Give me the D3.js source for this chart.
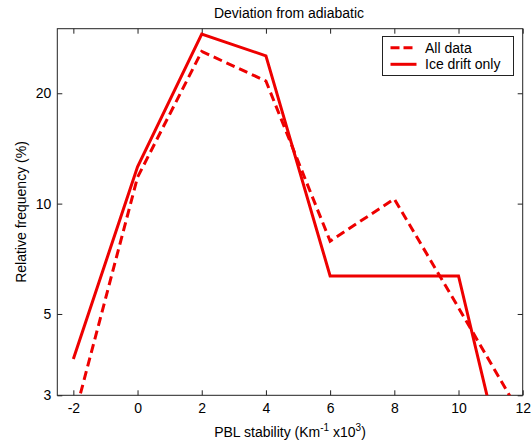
<!DOCTYPE html>
<html>
<head>
<meta charset="utf-8">
<script src="https://cdn.jsdelivr.net/npm/d3@7"></script>
<style>
  html, body { margin:0; padding:0; background:#fff; }
  svg { display:block; font-family:'Liberation Sans', Arial, sans-serif; }
</style>
</head>
<body>
<div id="chart"></div>
<script>
// PBL stability bins (Km^-1 x10^3)
const stability = [-2, 0, 2, 4, 6, 8, 10, 12];
// relative frequency (%) per bin
const allData = [2.56, 11.8, 26.0, 21.6, 7.9, 10.3, 5.2, 2.6];
const iceDrift = [3.77, 12.6, 29.0, 25.3, 6.35, 6.35, 6.35, 1.17];
const xTicks = [-2, 0, 2, 4, 6, 8, 10, 12];
const yTicks = [3, 5, 10, 20];

const width = 531, height = 443;
const margin = { top:28.7, right:8.3, bottom:47.7, left:57.3 };
const w = width - margin.left - margin.right;
const h = height - margin.top - margin.bottom;
const fs = 14;

const svg = d3.select('#chart').append('svg')
  .attr('width', width).attr('height', height);

const x = d3.scaleLinear().domain([-2.5, 12]).range([0, w]);
const y = d3.scaleLog().domain([3, 30]).range([h, 0]);

svg.append('defs').append('clipPath').attr('id', 'clip')
  .append('rect').attr('width', w).attr('height', h);

const g = svg.append('g').attr('transform', `translate(${margin.left},${margin.top})`);

// axes, MATLAB style: inward ticks on all four sides
const tick = 5;
const fmt = d => String(d);
g.append('g').attr('transform', `translate(0,${h})`)
  .call(d3.axisBottom(x).tickValues(xTicks).tickSizeInner(-tick).tickSizeOuter(0).tickPadding(8).tickFormat(fmt));
g.append('g')
  .call(d3.axisTop(x).tickValues(xTicks).tickSizeInner(-tick).tickSizeOuter(0).tickFormat(''));
g.append('g')
  .call(d3.axisLeft(y).tickValues(yTicks).tickSizeInner(-tick).tickSizeOuter(0).tickPadding(6).tickFormat(fmt));
g.append('g').attr('transform', `translate(${w},0)`)
  .call(d3.axisRight(y).tickValues(yTicks).tickSizeInner(-tick).tickSizeOuter(0).tickFormat(''));

g.selectAll('.domain').remove();
g.selectAll('.tick line').attr('stroke', '#222');
g.selectAll('.tick text').attr('font-size', fs).attr('fill', '#000')
  .attr('font-family', "'Liberation Sans', Arial, sans-serif");

g.append('rect').attr('width', w).attr('height', h)
  .attr('fill', 'none').attr('stroke', '#222').attr('stroke-width', 1);

// lines
const line = d3.line().x((d, i) => x(stability[i])).y(d => y(d));
const plot = g.append('g').attr('clip-path', 'url(#clip)');
plot.append('path').datum(allData).attr('d', line)
  .attr('fill', 'none').attr('stroke', '#ee0000').attr('stroke-width', 3)
  .attr('stroke-dasharray', '9,5');
plot.append('path').datum(iceDrift).attr('d', line)
  .attr('fill', 'none').attr('stroke', '#ee0000').attr('stroke-width', 3);

// legend
const lg = svg.append('g').attr('transform', 'translate(382.5,36.5)');
lg.append('rect').attr('width', 131).attr('height', 39)
  .attr('fill', '#fff').attr('stroke', '#222');
const items = [['All data', '9,4'], ['Ice drift only', null]];
items.forEach(([label, dash], i) => {
  const yy = 11.2 + i * 16.6;
  lg.append('line').attr('x1', 8).attr('x2', 34).attr('y1', yy).attr('y2', yy)
    .attr('stroke', '#ee0000').attr('stroke-width', 3)
    .attr('stroke-dasharray', dash);
  lg.append('text').attr('x', 42.5).attr('y', yy + 5)
    .attr('font-size', fs).text(label);
});

// title and labels
svg.append('text').attr('x', margin.left + w / 2 - 1).attr('y', 18)
  .attr('text-anchor', 'middle').attr('font-size', fs).text('Deviation from adiabatic');

const xl = svg.append('text').attr('x', margin.left + w / 2).attr('y', 437)
  .attr('text-anchor', 'middle').attr('font-size', fs);
xl.append('tspan').text('PBL stability (Km');
xl.append('tspan').attr('dy', -6).attr('font-size', 10).text('-1');
xl.append('tspan').attr('dy', 6).text(' x10');
xl.append('tspan').attr('dy', -6).attr('font-size', 10).text('3');
xl.append('tspan').attr('dy', 6).text(')');

svg.append('text')
  .attr('transform', `translate(26,${margin.top + h / 2}) rotate(-90)`)
  .attr('text-anchor', 'middle').attr('font-size', fs).text('Relative frequency (%)');
</script>
</body>
</html>
